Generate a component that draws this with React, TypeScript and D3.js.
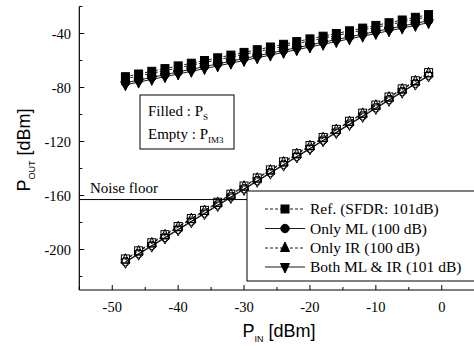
import React from 'react';
import * as d3 from 'd3';

// P_IN sweep (dBm)
const pin = [-48, -46, -44, -42, -40, -38, -36, -34, -32, -30, -28, -26, -24, -22, -20, -18, -16, -14, -12, -10, -8, -6, -4, -2];

// fundamental output (filled markers)
const psRef = [-72, -70, -68, -66, -64, -62, -60, -58, -56, -54, -52, -50, -48, -46, -44, -42, -40, -38, -36, -34, -32, -30, -28, -26];
const psML = [-76.5, -74.5, -72.5, -70.5, -68.5, -66.5, -64.5, -62.5, -60.5, -58.5, -56.5, -54.5, -52.5, -50.5, -48.5, -46.5, -44.5, -42.5, -40.5, -38.5, -36.5, -34.5, -32.5, -30.5];
const psIR = [-73.5, -71.5, -69.5, -67.5, -65.5, -63.5, -61.5, -59.5, -57.5, -55.5, -53.5, -51.5, -49.5, -47.5, -45.5, -43.5, -41.5, -39.5, -37.5, -35.5, -33.5, -31.5, -29.5, -27.5];
const psBoth = [-78, -76, -74, -72, -70, -68, -66, -64, -62, -60, -58, -56, -54, -52, -50, -48, -46, -44, -42, -40, -38, -36, -34, -32];

// IM3 output (empty markers)
const im3Ref = [-207, -201, -195, -189, -183, -177, -171, -165, -159, -153, -147, -141, -135, -129, -123, -117, -111, -105, -99, -93, -87, -81, -75, -69];
const im3ML = [-209, -203, -197, -191, -185, -179, -173, -167, -161, -155, -149, -143, -137, -131, -125, -119, -113, -107, -101, -95, -89, -83, -77, -71];
const im3IR = [-207.5, -201.5, -195.5, -189.5, -183.5, -177.5, -171.5, -165.5, -159.5, -153.5, -147.5, -141.5, -135.5, -129.5, -123.5, -117.5, -111.5, -105.5, -99.5, -93.5, -87.5, -81.5, -75.5, -69.5];
const im3Both = [-209.5, -203.5, -197.5, -191.5, -185.5, -179.5, -173.5, -167.5, -161.5, -155.5, -149.5, -143.5, -137.5, -131.5, -125.5, -119.5, -113.5, -107.5, -101.5, -95.5, -89.5, -83.5, -77.5, -71.5];

const noiseFloor = -163;

const xTicks = [-50, -40, -30, -20, -10, 0];
const xMinor = [-55, -45, -35, -25, -15, -5, 5];
const yTicks = [-40, -80, -120, -160, -200];
const yMinor = [-20, -60, -100, -140, -180, -220];

type Shape = 'square' | 'circle' | 'up' | 'down';

const series: { label: string; shape: Shape; dash: string; ps: number[]; im3: number[] }[] = [
  { label: 'Ref. (SFDR: 101dB)', shape: 'square', dash: '3,2', ps: psRef, im3: im3Ref },
  { label: 'Only ML (100 dB)', shape: 'circle', dash: '', ps: psML, im3: im3ML },
  { label: 'Only IR (100 dB)', shape: 'up', dash: '3,2', ps: psIR, im3: im3IR },
  { label: 'Both ML & IR (101 dB)', shape: 'down', dash: '', ps: psBoth, im3: im3Both },
];

const serif = '"Liberation Serif", "Times New Roman", serif';
const sans = '"Liberation Sans", Arial, sans-serif';

function Marker({ shape, x, y, filled }: { shape: Shape; x: number; y: number; filled: boolean }) {
  const fill = filled ? '#000' : 'none';
  const sw = 1;
  if (shape === 'square') {
    return <rect x={x - 4} y={y - 4} width={8} height={8} fill={fill} stroke="#000" strokeWidth={sw} />;
  }
  if (shape === 'circle') {
    return <circle cx={x} cy={y} r={4.2} fill={fill} stroke="#000" strokeWidth={sw} />;
  }
  if (shape === 'up') {
    return <path d={`M${x},${y - 6}L${x + 4.5},${y + 3.5}L${x - 4.5},${y + 3.5}Z`} fill={fill} stroke="#000" strokeWidth={sw} />;
  }
  return <path d={`M${x},${y + 6}L${x + 4.5},${y - 3.5}L${x - 4.5},${y - 3.5}Z`} fill={fill} stroke="#000" strokeWidth={sw} />;
}

export default function App() {
  const width = 474;
  const height = 346;
  const x = d3.scaleLinear().domain([-55, 5]).range([79.3, 474.7]);
  const y = d3.scaleLinear().domain([-230, -20]).range([290, 6.5]);

  const line = (vals: number[]) =>
    d3.line<number>().x((_, i) => x(pin[i])).y(v => y(v))(vals) || '';

  const legX = 247;
  const legY = 191;
  const rowY = [209, 228.5, 248, 267];

  return (
    <svg width={width} height={height} style={{ position: 'absolute', left: 0, top: 0, background: '#fff' }}>
      {/* series lines */}
      {series.map(s => (
        <g key={s.label}>
          <path d={line(s.ps)} fill="none" stroke="#000" strokeWidth={0.9} strokeDasharray={s.dash} />
          <path d={line(s.im3)} fill="none" stroke="#000" strokeWidth={0.9} strokeDasharray={s.dash} />
        </g>
      ))}
      {/* markers */}
      {series.map(s => (
        <g key={`m-${s.label}`}>
          {s.ps.map((v, i) => <Marker key={`p${i}`} shape={s.shape} x={x(pin[i])} y={y(v)} filled />)}
          {s.im3.map((v, i) => <Marker key={`i${i}`} shape={s.shape} x={x(pin[i])} y={y(v)} filled={false} />)}
        </g>
      ))}

      {/* noise floor */}
      <line x1={x(-55)} x2={legX} y1={y(noiseFloor)} y2={y(noiseFloor)} stroke="#000" strokeWidth={1} />
      <text x={90} y={y(noiseFloor) - 7} fontFamily={serif} fontSize={15}>Noise floor</text>

      {/* annotation box */}
      <rect x={140} y={95} width={94} height={54} fill="#fff" stroke="#000" strokeWidth={1} />
      <text x={148} y={116} fontFamily={serif} fontSize={15}>
        Filled : P<tspan fontSize={9} dy={4}>S</tspan>
      </text>
      <text x={148} y={139} fontFamily={serif} fontSize={15}>
        Empty : P<tspan fontSize={9} dy={4}>IM3</tspan>
      </text>

      {/* legend */}
      <rect x={legX} y={legY} width={240} height={90} fill="#fff" stroke="#000" strokeWidth={1} />
      {series.map((s, i) => (
        <g key={`l-${s.label}`}>
          <line x1={265} x2={305} y1={rowY[i]} y2={rowY[i]} stroke="#000" strokeWidth={0.9} strokeDasharray={s.dash} />
          <Marker shape={s.shape} x={285} y={rowY[i]} filled />
          <text x={310} y={rowY[i] + 5} fontFamily={serif} fontSize={15.5}>{s.label}</text>
        </g>
      ))}

      {/* axes */}
      <line x1={x(-55)} x2={x(-55)} y1={y(-20)} y2={y(-230)} stroke="#000" strokeWidth={1.2} />
      <line x1={x(-55)} x2={width} y1={y(-230)} y2={y(-230)} stroke="#000" strokeWidth={1.2} />
      {yTicks.map(t => (
        <g key={`yt${t}`}>
          <line x1={x(-55)} x2={x(-55) + 5} y1={y(t)} y2={y(t)} stroke="#000" />
          <text x={71} y={y(t) + 5} textAnchor="end" fontFamily={serif} fontSize={14.5}>{t}</text>
        </g>
      ))}
      {yMinor.map(t => (
        <line key={`ym${t}`} x1={x(-55)} x2={x(-55) + 3} y1={y(t)} y2={y(t)} stroke="#000" />
      ))}
      {xTicks.map(t => (
        <g key={`xt${t}`}>
          <line x1={x(t)} x2={x(t)} y1={y(-230)} y2={y(-230) - 5} stroke="#000" />
          <text x={x(t)} y={312} textAnchor="middle" fontFamily={serif} fontSize={14.5}>{t}</text>
        </g>
      ))}
      {xMinor.map(t => (
        <line key={`xm${t}`} x1={x(t)} x2={x(t)} y1={y(-230)} y2={y(-230) - 3} stroke="#000" />
      ))}

      {/* axis titles */}
      <text x={279} y={337} textAnchor="middle" fontFamily={sans} fontSize={18}>
        P<tspan fontSize={9} dy={5}>IN</tspan><tspan dy={-5}> [dBm]</tspan>
      </text>
      <text transform="translate(30,150) rotate(-90)" textAnchor="middle" fontFamily={sans} fontSize={18}>
        P<tspan fontSize={9} dy={5}>OUT</tspan><tspan dy={-5}> [dBm]</tspan>
      </text>
    </svg>
  );
}
